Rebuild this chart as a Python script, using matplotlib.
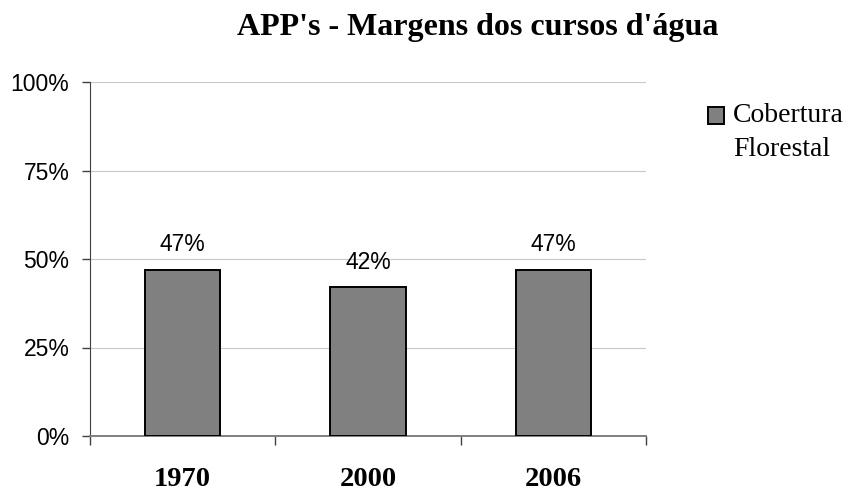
import numpy as np
import matplotlib.pyplot as plt
from matplotlib.patches import Rectangle
from matplotlib.legend_handler import HandlerPatch
from matplotlib.ticker import FixedLocator, NullFormatter

# data
years = ['1970', '2000', '2006']
cobertura = [47, 42, 47]
yticks = [0, 25, 50, 75, 100]
legend_label = 'Cobertura\nFlorestal'

serif = 'Liberation Serif'
sans = 'Liberation Sans'


def top_square(legend, orig_handle, xdescent, ydescent, width, height, fontsize):
    # put the legend square next to the first text line
    return Rectangle((-xdescent, -ydescent + 0.60 * fontsize), width, height)


fig = plt.figure(figsize=(8.55, 4.91), dpi=100)
ax = fig.add_axes([90/855, 55/491, 556/855, 354/491])

x = np.arange(len(years))
bars = ax.bar(x, cobertura, width=0.405, color='#808080', edgecolor='black',
              linewidth=1.4, zorder=3)

# value labels above bars
for xi, v in zip(x, cobertura):
    ax.annotate(f'{v}%', (xi, v), xytext=(0, 13.4), textcoords='offset points',
                ha='center', va='baseline', fontsize=16.5, family=sans)

ax.set_xlim(-0.5, 2.5)
ax.set_ylim(0, 100)

ax.set_yticks(yticks)
ax.set_yticklabels([f'{t}%' for t in yticks], family=sans, fontsize=16.5)
ax.yaxis.grid(True, color='#c8c8c8', linewidth=0.8, zorder=0)
ax.tick_params(axis='y', length=5.8, width=1, color='#404040', pad=9)

# category boundary ticks + category labels
ax.xaxis.set_major_locator(FixedLocator([-0.5, 0.5, 1.5, 2.5]))
ax.xaxis.set_major_formatter(NullFormatter())
ax.xaxis.set_minor_locator(FixedLocator(x))
ax.set_xticklabels(years, minor=True, family=serif, fontsize=20.5, fontweight='bold')
for lbl in ax.get_xticklabels(minor=True):
    lbl.set_verticalalignment('baseline')
ax.tick_params(axis='x', which='major', length=6.5, width=1, color='#404040')
ax.tick_params(axis='x', which='minor', length=0, pad=36)

for s in ['top', 'right']:
    ax.spines[s].set_visible(False)
ax.spines['left'].set_color('#404040')
ax.spines['bottom'].set_color('#808080')
ax.spines['bottom'].set_linewidth(1.4)

fig.text(478/855, 1 - 35/491, "APP's - Margens dos cursos d'água", ha='center',
         va='baseline', family=serif, fontsize=23, fontweight='bold')

leg = fig.legend(handles=[bars[0]], labels=[legend_label], loc='upper left',
                 bbox_to_anchor=(708/855, 1 - 103/491),
                 frameon=False, prop={'family': serif, 'size': 20},
                 handlelength=0.576, handleheight=0.576, handletextpad=0.32,
                 borderpad=0, borderaxespad=0,
                 handler_map={Rectangle: HandlerPatch(patch_func=top_square)})
leg.get_texts()[0].set_linespacing(1.5)

fig.savefig('out.png', dpi=100)
